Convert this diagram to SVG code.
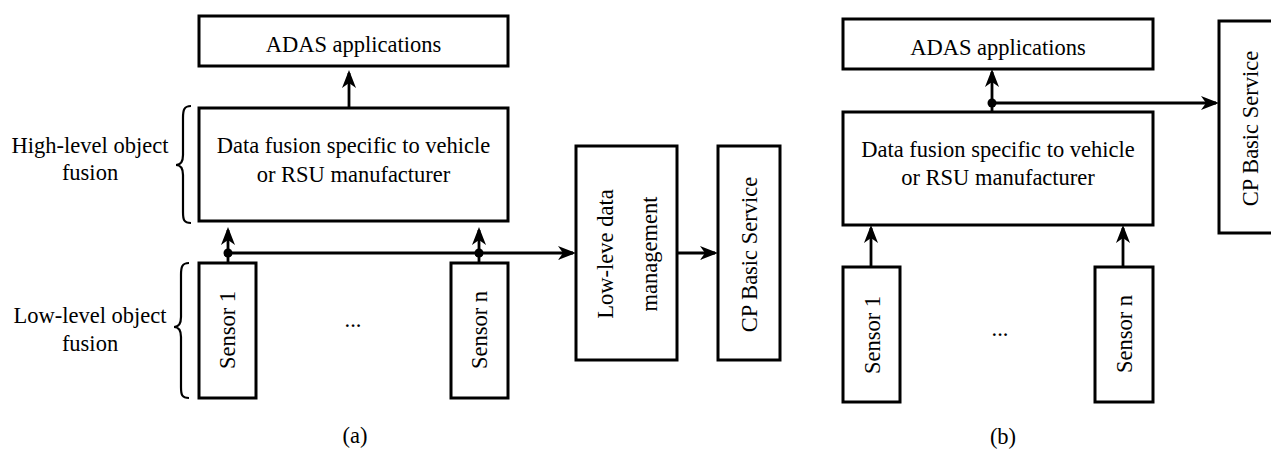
<svg xmlns="http://www.w3.org/2000/svg" width="1271" height="450" viewBox="0 0 1271 450">
<style>
.box{fill:#fff;stroke:#000;stroke-width:3}
.ln{fill:none;stroke:#000;stroke-width:2.8}
.br{fill:none;stroke:#000;stroke-width:2.2}
.t{font-family:'Liberation Serif',serif;font-size:22.5px;fill:#000;text-anchor:middle}
</style>
<defs>
<marker id="ah" markerUnits="userSpaceOnUse" markerWidth="19" markerHeight="15" refX="15" refY="7" orient="auto" viewBox="0 0 19 15">
<path d="M18,7 L0,0 L5,7 L0,14 Z" fill="#000"/>
</marker>
</defs>
<rect width="1271" height="450" fill="#fff"/>

<g font-family="Liberation Serif, serif" font-size="22.5">
<!-- Panel (a) -->
<g id="a-adas"><rect class="box" x="199" y="16" width="309" height="50"/><text class="t" x="353.5" y="52">ADAS applications</text></g>
<g id="a-fusion"><rect class="box" x="199" y="108" width="309" height="113"/><text class="t" x="353.5" y="153">Data fusion specific to vehicle</text><text class="t" x="353.5" y="182">or RSU manufacturer</text></g>
<g id="a-sensor1"><rect class="box" x="199" y="263" width="57" height="135"/><text class="t" transform="translate(235,330) rotate(-90)">Sensor 1</text></g>
<g id="a-sensorn"><rect class="box" x="451" y="263" width="57" height="135"/><text class="t" transform="translate(487,330) rotate(-90)">Sensor n</text></g>
<g id="a-lowdata"><rect class="box" x="576" y="146" width="101" height="214"/><text class="t" transform="translate(613,254) rotate(-90)">Low-leve data</text><text class="t" transform="translate(657,254) rotate(-90)">management</text></g>
<g id="a-cp"><rect class="box" x="718" y="146" width="62" height="214"/><text class="t" transform="translate(757,254.5) rotate(-90)">CP Basic Service</text></g>
<g id="a-labels">
<text class="t" x="90" y="153">High-level object</text><text class="t" x="90" y="180">fusion</text>
<path class="br" d="M191,106 C184,106 183,110 183,118 L183,155 C183,162 180,165 176,165 C180,165 183,168 183,175 L183,212 C183,220 184,223 191,223"/>
<text class="t" x="90" y="323">Low-level object</text><text class="t" x="90" y="351">fusion</text>
<path class="br" d="M189,263 C182,263 181,267 181,275 L181,317 C181,324 178,327 174,327 C178,327 181,330 181,337 L181,387 C181,395 182,398 189,398"/>
<text class="t" x="353" y="327">...</text>
<text class="t" x="355" y="443">(a)</text>
</g>

<!-- Panel (b) -->
<g id="b-adas"><rect class="box" x="843" y="19" width="310" height="50"/><text class="t" x="998" y="55">ADAS applications</text></g>
<g id="b-fusion"><rect class="box" x="843" y="112" width="310" height="113"/><text class="t" x="998" y="157">Data fusion specific to vehicle</text><text class="t" x="998" y="185">or RSU manufacturer</text></g>
<g id="b-sensor1"><rect class="box" x="843" y="267" width="57" height="135"/><text class="t" transform="translate(880,335) rotate(-90)">Sensor 1</text></g>
<g id="b-sensorn"><rect class="box" x="1095" y="267" width="58" height="135"/><text class="t" transform="translate(1132,334) rotate(-90)">Sensor n</text></g>
<g id="b-cp"><rect class="box" x="1219" y="21" width="62" height="212"/><text class="t" transform="translate(1258,128.5) rotate(-90)">CP Basic Service</text></g>
<g id="b-labels">
<text class="t" x="1000" y="336">...</text>
<text class="t" x="1003" y="444">(b)</text>
</g>
</g>

<g id="connectors">
<line class="ln" x1="349" y1="108" x2="349" y2="73" marker-end="url(#ah)"/>
<line class="ln" x1="228" y1="263" x2="228" y2="230" marker-end="url(#ah)"/>
<line class="ln" x1="479" y1="263" x2="479" y2="230" marker-end="url(#ah)"/>
<line class="ln" x1="228" y1="253" x2="573" y2="253" marker-end="url(#ah)"/>
<circle cx="228" cy="253" r="4.5"/>
<circle cx="479" cy="253" r="4.5"/>
<line class="ln" x1="677" y1="253" x2="715" y2="253" marker-end="url(#ah)"/>
<line class="ln" x1="992" y1="112" x2="992" y2="72" marker-end="url(#ah)"/>
<line class="ln" x1="992" y1="103" x2="1216" y2="103" marker-end="url(#ah)"/>
<circle cx="992" cy="103" r="4.5"/>
<line class="ln" x1="871" y1="267" x2="871" y2="228" marker-end="url(#ah)"/>
<line class="ln" x1="1123" y1="267" x2="1123" y2="228" marker-end="url(#ah)"/>
</g>
</svg>
